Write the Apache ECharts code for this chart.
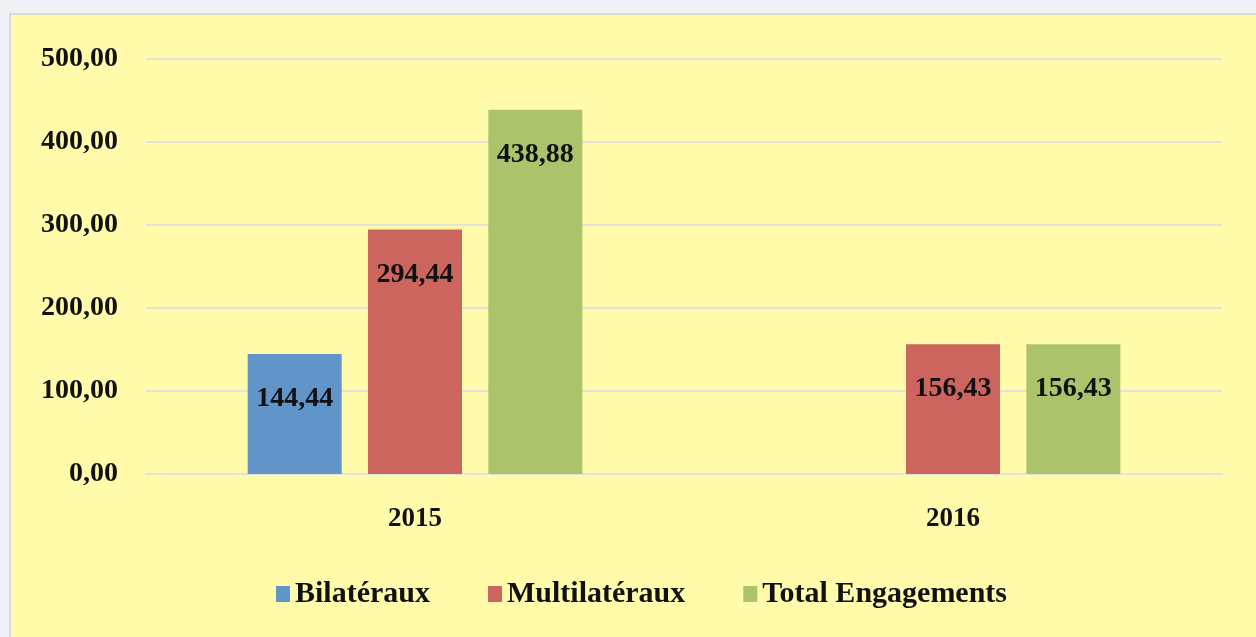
<!DOCTYPE html>
<html>
<head>
<meta charset="utf-8">
<script src="https://cdn.jsdelivr.net/npm/echarts@6/dist/echarts.min.js"></script>
<style>
html,body{margin:0;padding:0;background:#EEF2F7;width:1256px;height:637px;overflow:hidden;}
#panel{position:absolute;left:9px;top:13px;width:1247px;height:624px;background:#FFFBAA;border-left:2px solid #DADBD2;border-top:2px solid #DADBD2;box-sizing:border-box;}
#chart{position:absolute;left:0;top:0;width:1256px;height:637px;}
</style>
</head>
<body>
<div id="panel"></div>
<div id="chart"></div>
<script>
const categories = ['2015', '2016'];
const seriesNames = ['Bilatéraux', 'Multilatéraux', 'Total Engagements'];
const bilateraux = [144.44, null];
const multilateraux = [294.44, 156.43];
const totalEngagements = [438.88, 156.43];
const colors = ['#6195C9', '#CD655F', '#ABC46B'];

const fmt = v => Number(v).toFixed(2).replace('.', ',');
const fontFam = '"Liberation Serif", "Times New Roman", serif';

const mk = (name, data, color) => ({
  name: name,
  type: 'bar',
  data: data,
  barWidth: 94,
  barGap: '28%',
  itemStyle: { color: color },
  label: {
    show: true,
    position: 'insideTop',
    distance: 31,
    formatter: p => fmt(p.value),
    color: '#111',
    fontFamily: fontFam,
    fontSize: 28,
    fontWeight: 'bold'
  }
});

const chart = echarts.init(document.getElementById('chart'), null, { renderer: 'canvas' });
chart.setOption({
  backgroundColor: 'transparent',
  animation: false,
  color: colors,
  grid: { left: 146, right: 34, top: 59, bottom: 163 },
  legend: {
    data: seriesNames,
    left: 271,
    top: 574,
    itemWidth: 14,
    itemHeight: 16,
    itemGap: 58,
    icon: 'rect',
    textStyle: { fontFamily: fontFam, fontSize: 30, fontWeight: 'bold', color: '#111' }
  },
  xAxis: {
    type: 'category',
    data: categories,
    axisLine: { show: true, lineStyle: { color: '#E2E2D6', width: 2 } },
    axisTick: { show: false },
    axisLabel: { fontFamily: fontFam, fontSize: 27, fontWeight: 'bold', color: '#111', margin: 32 }
  },
  yAxis: {
    type: 'value',
    min: 0,
    max: 500,
    interval: 100,
    axisLine: { show: false },
    axisTick: { show: false },
    splitLine: { lineStyle: { color: '#E2E2D6', width: 2 } },
    axisLabel: { formatter: v => fmt(v), fontFamily: fontFam, fontSize: 28, fontWeight: 'bold', color: '#111', margin: 28 }
  },
  series: [
    mk(seriesNames[0], bilateraux, colors[0]),
    mk(seriesNames[1], multilateraux, colors[1]),
    mk(seriesNames[2], totalEngagements, colors[2])
  ]
});
</script>
</body>
</html>
